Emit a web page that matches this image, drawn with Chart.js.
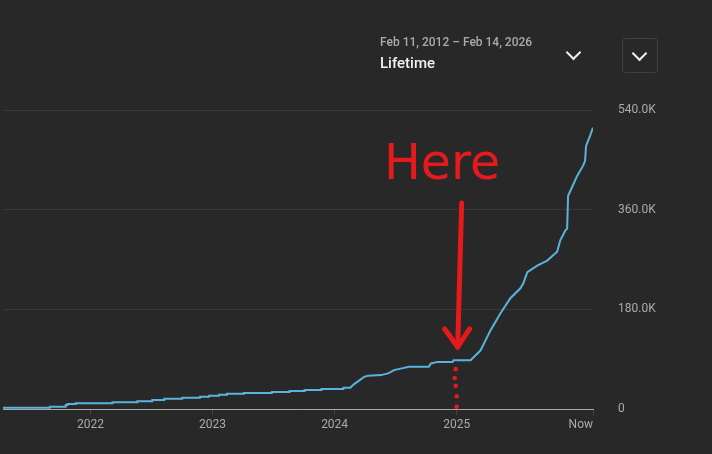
<!DOCTYPE html>
<html>
<head>
<meta charset="utf-8">
<script src="https://cdn.jsdelivr.net/npm/chart.js@4.4.1/dist/chart.umd.min.js"></script>
<style>
  html, body { margin:0; padding:0; background:#282828; width:712px; height:454px; overflow:hidden; font-family: Roboto, "Noto Sans", sans-serif; }
  #wrap { position:relative; width:712px; height:454px; }
  canvas { position:absolute; left:0; top:0; }
  .range { position:absolute; left:380px; top:35px; font-size:12px; font-weight:500; color:#aaaaaa; white-space:nowrap; }
  .period { position:absolute; left:380px; top:54px; font-size:15px; font-weight:500; color:#f1f1f1; white-space:nowrap; }
  .chev { position:absolute; width:9px; height:9px; border-right:2px solid #f1f1f1; border-bottom:2px solid #f1f1f1; transform:rotate(45deg); }
  .box { position:absolute; left:622px; top:38px; width:34px; height:33px; border:1px solid #3f3f3f; border-radius:3px; }
  .here { position:absolute; left:384px; top:134px; font-family:"DejaVu Sans", sans-serif; font-size:49px; color:#e51a1d; white-space:nowrap; letter-spacing:0px; }
</style>
</head>
<body>
<div id="wrap">
  <canvas id="c" width="712" height="454"></canvas>
  <div class="range">Feb 11, 2012 – Feb 14, 2026</div>
  <div class="period">Lifetime</div>
  <div class="chev" style="left:568px; top:47px;"></div>
  <div class="box"></div>
  <div class="chev" style="left:634px; top:48px;"></div>
  <div class="here">Here</div>
</div>
<script>
// decimal years (x) and cumulative views (y)
const dates = [
  2021.283, 2021.666, 2021.667, 2021.796, 2021.797, 2021.812, 2021.813, 2021.878, 2021.879,
  2022.179, 2022.180, 2022.383, 2022.384, 2022.505, 2022.506, 2022.603, 2022.604, 2022.750, 2022.751,
  2022.897, 2022.898, 2022.970, 2022.971, 2023.052, 2023.053, 2023.117, 2023.118, 2023.255, 2023.256,
  2023.484, 2023.485, 2023.630, 2023.631, 2023.753, 2023.754, 2023.891, 2023.892, 2024.071, 2024.072,
  2024.128, 2024.160, 2024.242, 2024.274, 2024.380, 2024.437, 2024.462, 2024.486, 2024.560, 2024.609,
  2024.772, 2024.788, 2024.845, 2024.967, 2024.975, 2025.114,
  2025.196, 2025.277, 2025.359, 2025.440, 2025.522, 2025.546, 2025.579, 2025.660, 2025.742, 2025.823,
  2025.848, 2025.889, 2025.905, 2025.913, 2025.946, 2025.987, 2026.035, 2026.052, 2026.060, 2026.092, 2026.117
];
const views = [
  2300, 2300, 4100, 4100, 7200, 7200, 9000, 9000, 10300,
  10300, 12100, 12100, 13900, 13900, 16200, 16200, 18500, 18500, 20300,
  20300, 22100, 22100, 23900, 23900, 25700, 25700, 27500, 27500, 28800,
  28800, 30600, 30600, 32400, 32400, 34200, 34200, 36000, 36000, 38300,
  38300, 45000, 58100, 59900, 61200, 64300, 67100, 70200, 73800, 76100,
  76100, 82300, 85100, 85100, 88200, 88200,
  106000, 142000, 173000, 200000, 218000, 227000, 247000, 259000, 268000, 284000,
  304000, 322000, 326000, 385000, 401000, 421000, 439000, 448000, 475000, 493000, 508000
];
const xTickYears = [2022, 2023, 2024, 2025];
const xNowLabel = "Now";
const xMin = 2021.283, xMax = 2026.117;
const yTicks = [0, 180000, 360000, 540000];

const points = dates.map((d, i) => ({ x: d, y: views[i] }));

const annotate = {
  id: 'annotate',
  afterDatasetsDraw(chart) {
    const ctx = chart.ctx, xs = chart.scales.x, ys = chart.scales.y;
    const mark = 2025;
    const bx = xs.getPixelForValue(mark);
    ctx.save();
    ctx.strokeStyle = '#e51a1d';
    ctx.fillStyle = '#e51a1d';
    ctx.lineCap = 'round';
    ctx.lineJoin = 'round';
    ctx.lineWidth = 5;
    // arrow
    const topX = bx + 5, topY = ys.getPixelForValue(372000);
    const tipX = bx + 1, tipY = ys.getPixelForValue(112000);
    ctx.beginPath();
    ctx.moveTo(topX, topY);
    ctx.lineTo(tipX, tipY);
    ctx.stroke();
    ctx.beginPath();
    ctx.moveTo(tipX - 13, tipY - 18);
    ctx.lineTo(tipX, tipY);
    ctx.lineTo(tipX + 12, tipY - 18);
    ctx.stroke();
    // dotted line
    const dots = [72000, 56000, 42000, 23000, 4000];
    const dx = [0, -1, 0, 1, 1];
    dots.forEach((v, i) => {
      ctx.beginPath();
      ctx.arc(bx - 1 + dx[i], ys.getPixelForValue(v), 2.3, 0, Math.PI * 2);
      ctx.fill();
    });
    ctx.restore();
  }
};

new Chart(document.getElementById('c'), {
  type: 'line',
  data: {
    datasets: [{
      data: points,
      borderColor: '#5ab3dd',
      borderWidth: 2,
      pointRadius: 0,
      fill: false,
      tension: 0
    }]
  },
  options: {
    responsive: false,
    animation: false,
    events: [],
    layout: { padding: { top: 110, left: 0, right: 0, bottom: 0 } },
    plugins: { legend: { display: false }, tooltip: { enabled: false } },
    scales: {
      x: {
        type: 'linear',
        min: xMin,
        max: xMax,
        afterBuildTicks(scale) {
          scale.ticks = [{ value: xMin }].concat(xTickYears.map(v => ({ value: v })), [{ value: xMax }]);
        },
        afterFit(scale) { scale.height = 45; },
        border: { display: true, color: '#a8a8a8', width: 1 },
        grid: {
          drawOnChartArea: false,
          drawTicks: true,
          tickLength: 6,
          tickColor: (c) => (c.index === 0 ? 'rgba(0,0,0,0)' : '#454545')
        },
        ticks: {
          autoSkip: false,
          maxRotation: 0,
          align: 'inner',
          padding: 3,
          color: '#aaaaaa',
          font: { family: 'Roboto', size: 12 },
          callback(v, i, arr) {
            if (i === 0) return '';
            if (i === arr.length - 1) return xNowLabel;
            return String(Math.round(v));
          }
        }
      },
      y: {
        position: 'right',
        min: 0,
        max: 540000,
        afterBuildTicks(scale) { scale.ticks = yTicks.map(v => ({ value: v })); },
        afterFit(scale) { scale.width = 119; },
        border: { display: false },
        grid: { color: '#383838', lineWidth: 1, drawTicks: false },
        ticks: {
          padding: 25,
          color: '#aaaaaa',
          font: { family: 'Roboto', size: 12 },
          callback(v) { return v === 0 ? '0' : (v / 1000).toFixed(1) + 'K'; }
        }
      }
    }
  },
  plugins: [annotate]
});
</script>
</body>
</html>
